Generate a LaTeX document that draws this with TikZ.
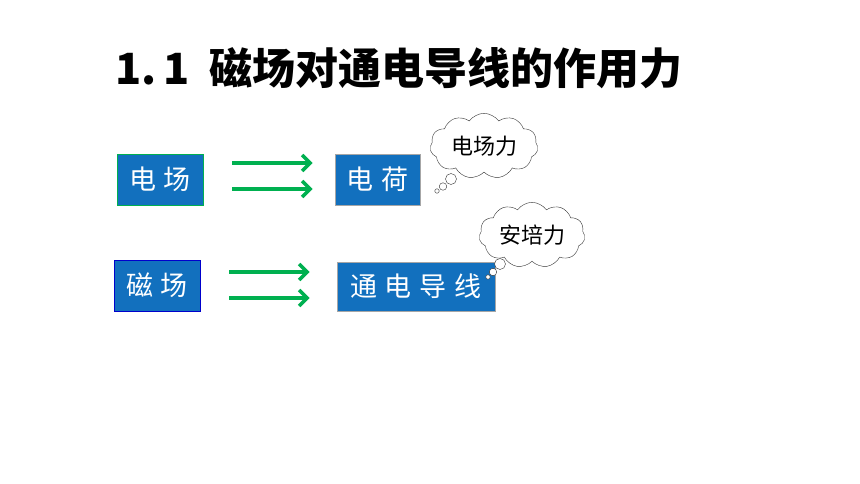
\documentclass[tikz,border=0pt]{standalone}
\usepackage{fontspec}
\newfontfamily\cjk{Noto Sans CJK SC}
\usetikzlibrary{positioning, shapes.symbols, arrows.meta}
\definecolor{boxblue}{RGB}{18,112,190}
\definecolor{arrgreen}{RGB}{0,176,80}
\tikzset{
  fieldbox/.style={draw=arrgreen, line width=0.8pt, fill=boxblue, text=white,
    minimum height=51pt, inner sep=0pt, font=\cjk\fontsize{27}{27}\selectfont}, % blue boxes
  bluebox/.style={fieldbox, draw=blue!80!black},
  greyedge/.style={fieldbox, draw=gray!70},
  arr/.style={draw=arrgreen, line width=3.5pt, -{Straight Barb[length=8pt,width=16pt]}}, % green arrows
  thought/.style={cloud, draw=black!80, fill=white, cloud puffs=11, cloud puff arc=110,
    aspect=1.8, inner sep=1pt, font=\cjk\fontsize{22}{22}\selectfont}, % the clouds
  puff/.style={circle, draw=black!80, fill=white, inner sep=0pt},
}
\begin{document}
\begin{tikzpicture}[x=1pt, y=-1pt]
  \useasboundingbox[fill=white] (0,0) rectangle (860,484);

  \node[anchor=west, font=\cjk\bfseries\fontsize{43}{43}\selectfont] (title) at (112,68) {1.\,1\ \ 磁场对通电导线的作用力};

  % first row
  \node[fieldbox, minimum width=86pt] (ef) at (160,179.5) {电\hspace{8pt}场};
  \node[greyedge, minimum width=85pt] (ch) at (377.5,179.5) {电\hspace{8pt}荷};
  \node[thought, minimum width=108pt, minimum height=58pt] (c1) at (484,146) {电场力};
  \node[puff, minimum size=11pt] (p1) at (451,179) {};
  \node[puff, minimum size=7.5pt] (p2) at (443,186.5) {};
  \node[puff, minimum size=4.5pt] (p3) at (437,191) {};

  \draw[arr, shorten <=29pt, shorten >=22pt] ([yshift=16.5pt]ef.east) -- ([yshift=16.5pt]ch.west);
  \draw[arr, shorten <=29pt, shorten >=22pt] ([yshift=-9.5pt]ef.east) -- ([yshift=-9.5pt]ch.west);

  % second row
  \node[bluebox, minimum width=86pt] (mf) at (157,285.5) {磁\hspace{8pt}场};
  \node[greyedge, minimum width=158pt, minimum height=49pt] (wire) at (416,286.5) {通\hspace{8pt}电\hspace{8pt}导\hspace{8pt}线};
  \node[thought, minimum width=106pt, minimum height=60pt] (c2) at (532,235) {安培力};
  \node[puff, minimum size=11pt] (q1) at (500,264) {};
  \node[puff, minimum size=7.5pt] (q2) at (493,272) {};
  \node[puff, minimum size=4.5pt] (q3) at (488,277) {};

  \draw[arr, shorten <=29pt, shorten >=27pt] ([yshift=13.5pt]mf.east) -- ([yshift=14.5pt]wire.west);
  \draw[arr, shorten <=29pt, shorten >=27pt] ([yshift=-12.5pt]mf.east) -- ([yshift=-11.5pt]wire.west);
\end{tikzpicture}
\end{document}
